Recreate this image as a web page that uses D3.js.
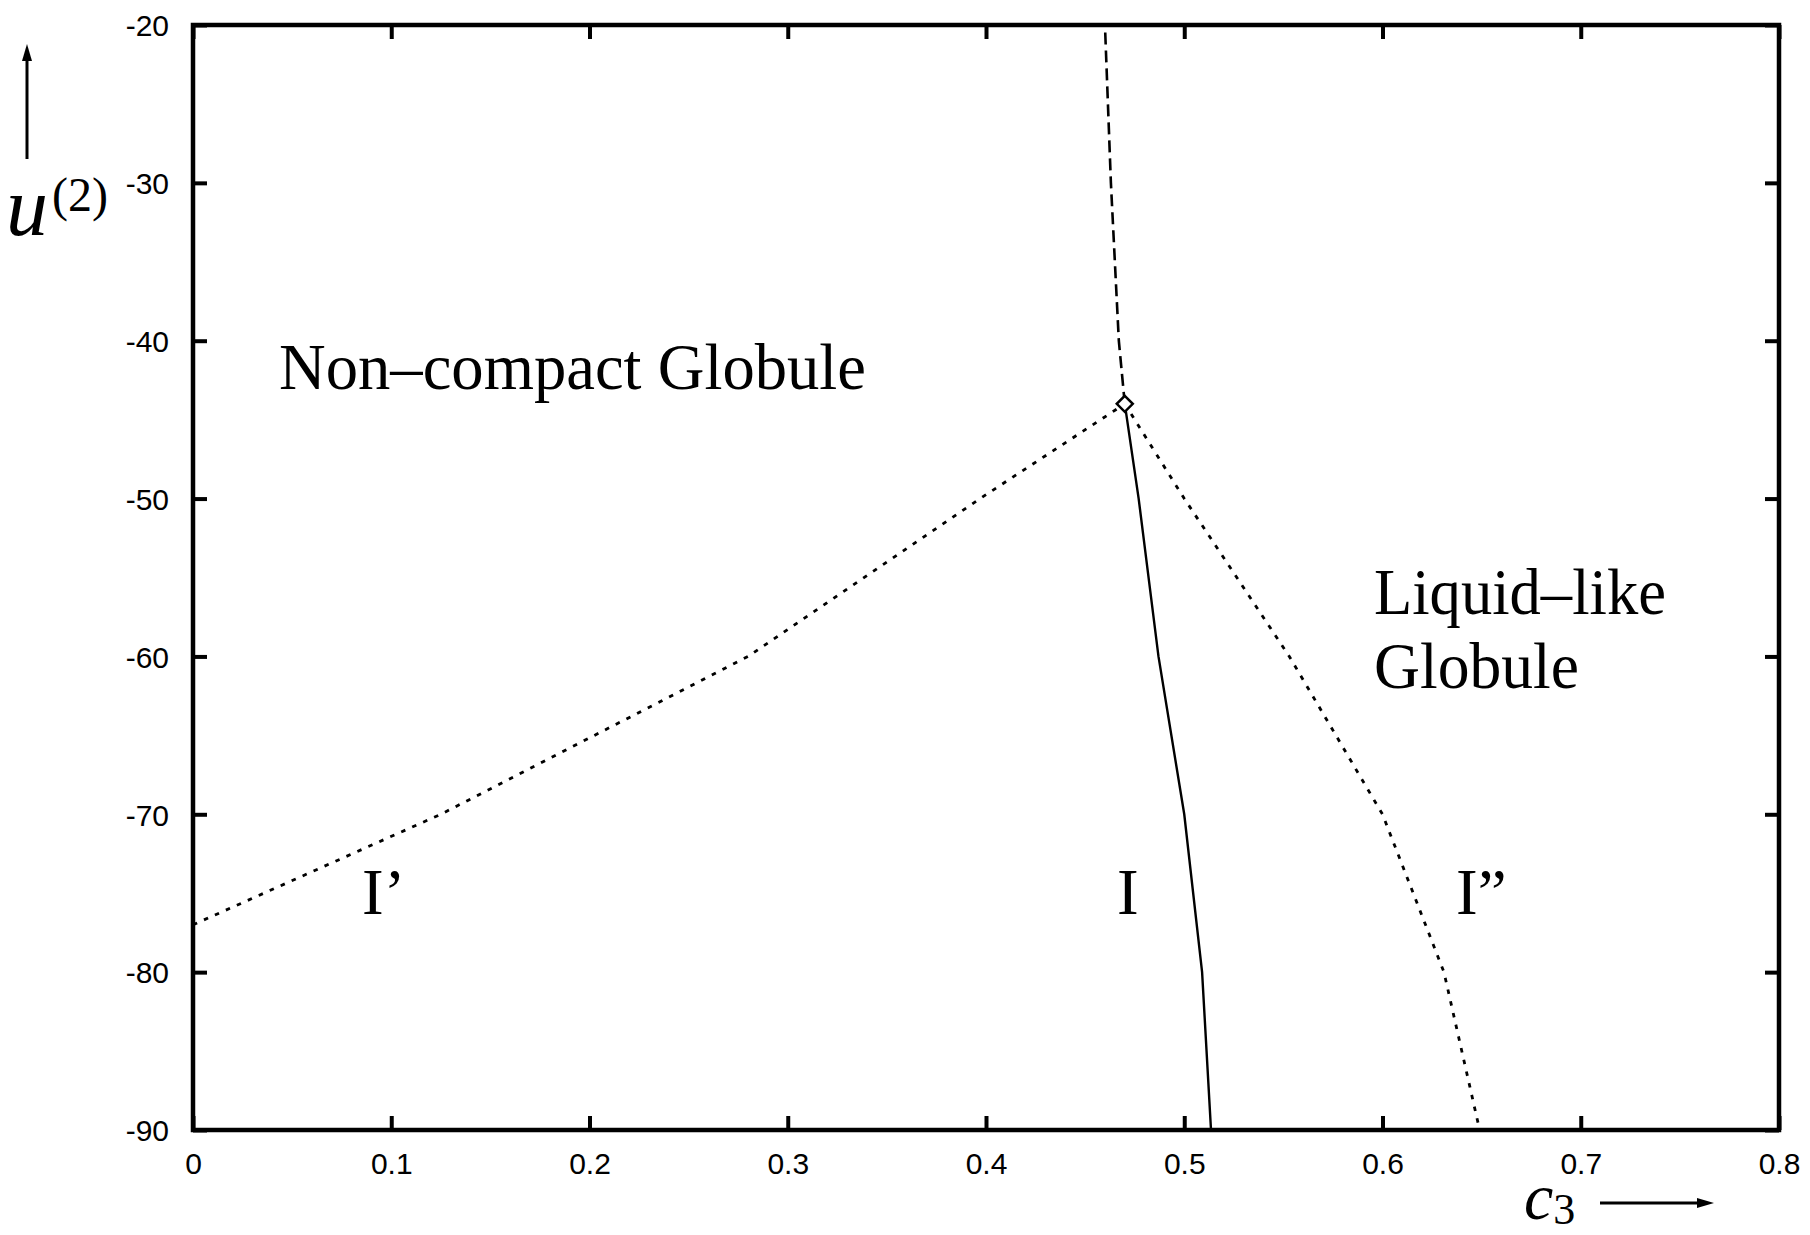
<!DOCTYPE html>
<html>
<head>
<meta charset="utf-8">
<script src="https://cdn.jsdelivr.net/npm/d3@7"></script>
<style>
    body { margin: 0; background: #fff; }
    .tick text { font-family: "Liberation Sans", Arial, sans-serif; font-size: 30px; fill: #000; }
</style>
</head>
<body>
<div id="chart"></div>
<script>
// ---- data ----
let xTicks = [0, 0.1, 0.2, 0.3, 0.4, 0.5, 0.6, 0.7, 0.8];
let yTicks = [-20, -30, -40, -50, -60, -70, -80, -90];

// I' boundary (dotted, left)
let curveLeftC3 = [0, 0.125, 0.28, 0.397, 0.47];
let curveLeftU  = [-77, -70, -60, -50, -44];

// I boundary (solid)
let curveMidC3 = [0.47, 0.477, 0.487, 0.5, 0.509, 0.5135];
let curveMidU  = [-44, -50, -60, -70, -80, -90];

// I'' boundary (dotted, right)
let curveRightC3 = [0.47, 0.5, 0.553, 0.6, 0.631, 0.649];
let curveRightU  = [-44, -50, -60, -70, -80, -90];

// upper boundary (dashed)
let curveTopC3 = [0.47, 0.467, 0.463, 0.46];
let curveTopU  = [-44, -40, -30, -20];

// triple point
let tripleC3 = 0.47, tripleU = -44;

// ---- drawing ----
let W = 1810, H = 1235;
let margin = {top: 25, right: 31, bottom: 105, left: 193};
let width = W - margin.left - margin.right;
let height = H - margin.top - margin.bottom;

let svg = d3.select("#chart").append("svg")
    .attr("width", W)
    .attr("height", H);

let g = svg.append("g")
    .attr("transform", `translate(${margin.left},${margin.top})`);

let x = d3.scaleLinear().domain([0, 0.8]).range([0, width]);
let y = d3.scaleLinear().domain([-90, -20]).range([height, 0]);

// plain hyphen for negatives, like the original
let fmt = d => String(d);

// axes with inward ticks
let axB = g.append("g").attr("transform", `translate(0,${height})`)
    .call(d3.axisBottom(x).tickValues(xTicks).tickFormat(fmt).tickSizeInner(-14).tickSizeOuter(0).tickPadding(23));
let axL = g.append("g")
    .call(d3.axisLeft(y).tickValues(yTicks).tickFormat(fmt).tickSizeInner(-14).tickSizeOuter(0).tickPadding(24));
let axT = g.append("g")
    .call(d3.axisTop(x).tickValues(xTicks).tickFormat("").tickSizeInner(-14).tickSizeOuter(0));
let axR = g.append("g").attr("transform", `translate(${width},0)`)
    .call(d3.axisRight(y).tickValues(yTicks).tickFormat("").tickSizeInner(-14).tickSizeOuter(0));

[axB, axL, axT, axR].forEach(a => {
    a.select(".domain").remove();
    a.selectAll(".tick line").attr("stroke", "#000").attr("stroke-width", 4);
});
axL.selectAll(".tick text").attr("dy", "0.36em");

// frame
g.append("rect")
    .attr("width", width)
    .attr("height", height)
    .attr("fill", "none")
    .attr("stroke", "#000")
    .attr("stroke-width", 4.5);

let line = d3.line().x(d => x(d[0])).y(d => y(d[1]));

function drawCurve(cs, us, dash, sw) {
    g.append("path")
        .datum(d3.zip(cs, us))
        .attr("d", line)
        .attr("fill", "none")
        .attr("stroke", "#000")
        .attr("stroke-width", sw)
        .attr("stroke-dasharray", dash);
}

drawCurve(curveLeftC3, curveLeftU, "4.5,7.5", 2.8);
drawCurve(curveRightC3, curveRightU, "4.5,7.5", 2.8);
drawCurve(curveMidC3, curveMidU, null, 2.4);
drawCurve(curveTopC3, curveTopU, "12,6", 2.6);

// triple point diamond
g.append("path")
    .attr("d", "M0,-8L8,0L0,8L-8,0Z")
    .attr("transform", `translate(${x(tripleC3)},${y(tripleU)})`)
    .attr("fill", "#fff")
    .attr("stroke", "#000")
    .attr("stroke-width", 2.5);

// region labels
let serif = "'Liberation Serif', 'Times New Roman', serif";
function label(txt, px, py, len) {
    let t = svg.append("text")
        .attr("x", px).attr("y", py)
        .attr("font-family", serif)
        .attr("font-size", 65)
        .text(txt);
    if (len) t.attr("textLength", len).attr("lengthAdjust", "spacingAndGlyphs");
}
label("Non\u2013compact Globule", 279, 389, 587);
label("Liquid\u2013like", 1374, 614, 292);
label("Globule", 1374, 688, 205);
label("I\u2019", 362, 914);
label("I", 1117, 914);
label("I\u201D", 1456, 914);

// y-axis label u^(2) with arrow
let yl = svg.append("text")
    .attr("x", 6).attr("y", 235)
    .attr("font-family", serif);
yl.append("tspan").attr("font-size", 84).attr("font-style", "italic").text("u");
yl.append("tspan").attr("font-size", 48).attr("dy", -24).attr("dx", 4).text("(2)");

svg.append("line")
    .attr("x1", 27).attr("x2", 27).attr("y1", 159).attr("y2", 58)
    .attr("stroke", "#000").attr("stroke-width", 3);
svg.append("path")
    .attr("d", "M27,44L22,61L32,61Z")
    .attr("fill", "#000");

// x-axis label c_3 with arrow
let xl = svg.append("text")
    .attr("x", 1524).attr("y", 1219)
    .attr("font-family", serif);
xl.append("tspan").attr("font-size", 66).attr("font-style", "italic").text("c");
xl.append("tspan").attr("font-size", 44).attr("dy", 5).text("3");

svg.append("line")
    .attr("x1", 1600).attr("x2", 1700).attr("y1", 1203).attr("y2", 1203)
    .attr("stroke", "#000").attr("stroke-width", 3);
svg.append("path")
    .attr("d", "M1714,1203L1697,1198L1697,1208Z")
    .attr("fill", "#000");
</script>
</body>
</html>
